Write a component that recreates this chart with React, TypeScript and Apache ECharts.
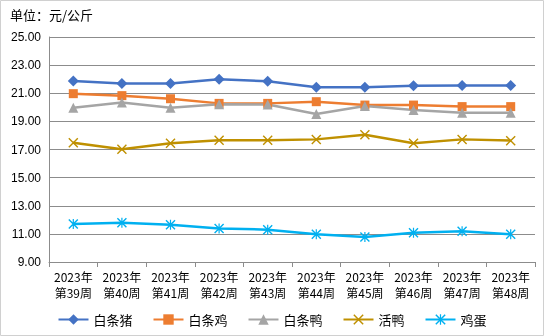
import React, { useEffect, useRef } from "react";
import * as echarts from "echarts";

const categories = [
  "2023年\n第39周", "2023年\n第40周", "2023年\n第41周", "2023年\n第42周", "2023年\n第43周",
  "2023年\n第44周", "2023年\n第45周", "2023年\n第46周", "2023年\n第47周", "2023年\n第48周",
];
const pork = [21.87, 21.7, 21.7, 22.0, 21.85, 21.42, 21.42, 21.54, 21.55, 21.55];
const chicken = [20.97, 20.83, 20.61, 20.28, 20.28, 20.4, 20.16, 20.16, 20.05, 20.05];
const duck = [19.97, 20.35, 19.97, 20.21, 20.2, 19.52, 20.09, 19.81, 19.62, 19.62];
const liveDuck = [17.48, 17.01, 17.44, 17.65, 17.65, 17.72, 18.05, 17.44, 17.72, 17.63];
const eggs = [11.7, 11.79, 11.65, 11.39, 11.3, 10.97, 10.78, 11.08, 11.18, 10.97];
const seriesNames = ["白条猪", "白条鸡", "白条鸭", "活鸭", "鸡蛋"];
const yTicks = { min: 9, max: 25, interval: 2 };

const X_PATH = "path://M0,1 L1,0 L10,9 L9,10 Z M9,0 L10,1 L1,10 L0,9 Z";
const STAR_PATH = "path://M0,1 L1,0 L10,9 L9,10 Z M9,0 L10,1 L1,10 L0,9 Z M4.4,0 L5.6,0 L5.6,10 L4.4,10 Z";

export default function App() {
  const ref = useRef<HTMLDivElement>(null);
  useEffect(() => {
    if (!ref.current) return;
    const chart = echarts.init(ref.current, null, { renderer: "svg" });
    const font = "'Liberation Sans', 'Noto Sans CJK SC', sans-serif";
    const mk = (name: string, data: number[], color: string, symbol: string, size: number) => ({
      name,
      type: "line",
      data,
      symbol,
      symbolSize: size,
      showAllSymbol: true,
      lineStyle: { color, width: 2.5 },
      itemStyle: { color },
      emphasis: { disabled: true },
    });
    chart.setOption({
      animation: false,
      textStyle: { fontFamily: font },
      graphic: [
        {
          type: "rect",
          shape: { x: 0.5, y: 0.5, width: 543, height: 335 },
          style: { fill: "none", stroke: "#d0d0d0", lineWidth: 1 },
          silent: true,
        },
        {
          type: "text",
          left: 10,
          top: 8,
          style: { text: "单位：元/公斤", fontSize: 13, fill: "#000", fontFamily: "'Noto Sans CJK SC', sans-serif" },
        },
      ],
      grid: { left: 49, right: 9, top: 37, bottom: 74, containLabel: false },
      xAxis: {
        type: "category",
        data: categories,
        boundaryGap: true,
        axisLine: { lineStyle: { color: "#8c8c8c", width: 1 } },
        axisTick: { show: true, length: 5, lineStyle: { color: "#8c8c8c" } },
        axisLabel: { color: "#000", fontSize: 12, lineHeight: 16, margin: 6, interval: 0, fontFamily: "'Noto Sans CJK SC', sans-serif" },
      },
      yAxis: {
        type: "value",
        min: yTicks.min,
        max: yTicks.max,
        interval: yTicks.interval,
        axisLine: { show: true, lineStyle: { color: "#8c8c8c", width: 1 } },
        axisTick: { show: false },
        splitLine: { lineStyle: { color: "#8c8c8c", width: 1 } },
        axisLabel: { color: "#000", fontSize: 12, margin: 8, formatter: (v: number) => v.toFixed(2) },
      },
      legend: {
        bottom: 5,
        left: "center",
        itemWidth: 30,
        itemHeight: 13,
        itemGap: 20,
        textStyle: { fontSize: 13, color: "#000", fontFamily: "'Noto Sans CJK SC', sans-serif" },
        data: seriesNames,
      },
      series: [
        mk(seriesNames[0], pork, "#4472C4", "diamond", 11),
        mk(seriesNames[1], chicken, "#ED7D31", "rect", 9),
        mk(seriesNames[2], duck, "#A5A5A5", "triangle", 10),
        mk(seriesNames[3], liveDuck, "#BF9000", X_PATH, 10),
        mk(seriesNames[4], eggs, "#00B0F0", STAR_PATH, 10),
      ],
    });
    return () => chart.dispose();
  }, []);
  return <div ref={ref} style={{ position: "fixed", left: 0, top: 0, width: 544, height: 336 }} />;
}
